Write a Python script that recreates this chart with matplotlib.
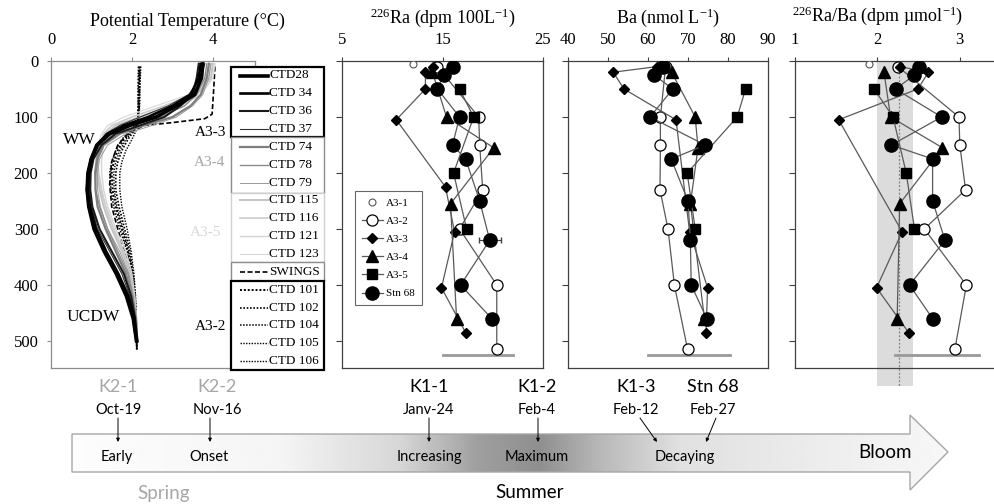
import numpy as np
import matplotlib
matplotlib.use("Agg")
import matplotlib.pyplot as plt
from matplotlib.patches import Polygon, Rectangle

plt.rcParams['font.family'] = 'Liberation Serif'
plt.rcParams['mathtext.fontset'] = 'custom'
plt.rcParams['mathtext.rm'] = 'Liberation Serif'

# ---- potential temperature profiles (depth in m, theta in degC) ----
ctd_depth = [5, 30, 60, 80, 100, 115, 130, 150, 175, 200, 230, 260, 300, 340, 380, 420, 460, 500]
ctd28 = [3.75, 3.72, 3.55, 3.1, 2.6, 1.95, 1.45, 1.15, 1.0, 0.93, 0.9, 0.95, 1.1, 1.35, 1.65, 1.9, 2.05, 2.12]
ctd34 = [3.7, 3.65, 3.45, 3.0, 2.4, 1.8, 1.4, 1.12, 0.98, 0.9, 0.88, 0.92, 1.05, 1.3, 1.6, 1.85, 2.02, 2.1]
ctd36 = [3.65, 3.6, 3.5, 3.2, 2.8, 2.2, 1.6, 1.25, 1.05, 0.98, 0.97, 1.02, 1.2, 1.5, 1.8, 1.98, 2.08, 2.12]
ctd37 = [3.8, 3.7, 3.4, 2.9, 2.2, 1.7, 1.35, 1.15, 1.02, 0.97, 0.95, 1.0, 1.15, 1.45, 1.75, 1.95, 2.06, 2.12]
ctd74 = [3.9, 3.85, 3.7, 3.45, 3.0, 2.3, 1.7, 1.3, 1.15, 1.1, 1.1, 1.15, 1.35, 1.6, 1.85, 2.0, 2.1, 2.13]
ctd78 = [3.85, 3.8, 3.6, 3.3, 2.7, 2.0, 1.55, 1.25, 1.12, 1.08, 1.1, 1.2, 1.4, 1.65, 1.9, 2.02, 2.1, 2.13]
ctd79 = [3.95, 3.9, 3.75, 3.5, 3.1, 2.5, 1.85, 1.4, 1.2, 1.15, 1.15, 1.22, 1.4, 1.7, 1.92, 2.03, 2.1, 2.13]
ctd115 = [4.0, 3.95, 3.6, 3.0, 2.2, 1.6, 1.35, 1.2, 1.15, 1.15, 1.2, 1.3, 1.5, 1.75, 1.95, 2.05, 2.1, 2.13]
ctd116 = [3.95, 3.9, 3.5, 2.8, 2.0, 1.5, 1.3, 1.2, 1.15, 1.18, 1.25, 1.35, 1.55, 1.8, 1.97, 2.06, 2.1, 2.13]
ctd121 = [4.05, 4.0, 3.7, 3.2, 2.5, 1.8, 1.45, 1.3, 1.25, 1.25, 1.3, 1.4, 1.6, 1.85, 2.0, 2.07, 2.11, 2.13]
ctd123 = [3.9, 3.85, 3.4, 2.6, 1.8, 1.4, 1.25, 1.15, 1.12, 1.15, 1.22, 1.35, 1.55, 1.78, 1.96, 2.05, 2.1, 2.13]

swings_depth = [10, 50, 95, 103, 110, 115, 130, 150, 180, 220, 260, 300, 350, 400, 450, 500]
swings = [4.05, 4.02, 3.98, 3.8, 3.0, 2.3, 1.9, 1.65, 1.5, 1.45, 1.5, 1.65, 1.85, 2.0, 2.08, 2.12]

a32_ctd_depth = [10, 40, 80, 110, 125, 140, 160, 180, 200, 230, 260, 300, 340, 380, 420, 460, 515]
ctd101 = [2.18, 2.17, 2.16, 2.15, 2.0, 1.8, 1.65, 1.55, 1.5, 1.52, 1.6, 1.75, 1.9, 2.0, 2.07, 2.1, 2.12]
ctd102 = [2.2, 2.19, 2.18, 2.16, 2.05, 1.9, 1.75, 1.65, 1.6, 1.6, 1.68, 1.82, 1.95, 2.03, 2.08, 2.1, 2.12]
ctd104 = [2.16, 2.15, 2.15, 2.14, 1.95, 1.75, 1.6, 1.5, 1.45, 1.48, 1.55, 1.7, 1.88, 1.98, 2.06, 2.1, 2.12]
ctd105 = [2.22, 2.2, 2.19, 2.17, 2.1, 2.0, 1.85, 1.75, 1.7, 1.7, 1.75, 1.88, 1.98, 2.05, 2.09, 2.11, 2.12]
ctd106 = [2.19, 2.18, 2.17, 2.15, 2.02, 1.85, 1.7, 1.6, 1.55, 1.56, 1.63, 1.78, 1.92, 2.02, 2.07, 2.1, 2.12]

# ---- 226Ra (dpm/100L), Ba (nmol/L), 226Ra/Ba (dpm/umol) ----
nan = np.nan
a31_depth = [5]
a31_ra = [12.1]
a31_ba = [63.7]
a31_ratio = [1.90]

a32_depth = [10, 100, 150, 230, 300, 400, 515]
a32_ra = [14.5, 18.6, 18.7, 19.0, 16.7, 20.4, 20.4]
a32_ba = [64.4, 63.1, 63.1, 63.0, 65.0, 66.6, 69.9]
a32_ratio = [2.25, 2.99, 3.00, 3.07, 2.57, 3.08, 2.94]

a33_depth = [10, 20, 50, 105, 225, 305, 405, 485]
a33_ra = [14.1, 13.3, 13.3, 10.4, 15.3, 16.2, 14.9, 17.3]
a33_ba = [62.3, 51.3, 54.0, 67.0, nan, 70.4, 74.9, 74.5]
a33_ratio = [2.27, 2.62, 2.49, 1.53, nan, 2.30, 1.99, 2.38]

a34_depth = [20, 100, 155, 255, 460]
a34_ra = [14.0, 15.4, 20.1, 15.8, 16.4]
a34_ba = [65.9, 71.8, 72.5, 70.6, 74.1]
a34_ratio = [2.08, 2.16, 2.79, 2.27, 2.24]

a35_depth = [50, 100, 200, 300]
a35_ra = [16.7, 18.1, 16.1, 17.4]
a35_ba = [84.4, 82.3, 69.8, 71.8]
a35_ratio = [1.96, 2.19, 2.35, 2.45]

stn68_depth = [10, 25, 50, 100, 150, 175, 250, 320, 400, 460]
stn68_ra = [16.0, 15.1, 14.5, 16.7, 16.0, 17.3, 18.7, 19.7, 16.8, 19.9]
stn68_ba = [63.7, 61.5, 66.2, 60.5, 74.3, 65.8, 70.0, 70.6, 70.8, 74.7]
stn68_ratio = [2.50, 2.45, 2.22, 2.78, 2.17, 2.67, 2.67, 2.82, 2.39, 2.67]
stn68_ra_err = [0, 0, 0, 0, 0, 0, 0, 1.1, 0, 0]

ref_depth = 525
ra_ref = [15.0, 22.0]
ba_ref = [60.0, 80.5]
ratio_ref = [2.21, 3.23]
ratio_band = [2.0, 2.43]
ratio_mean = 2.26

# ---- timeline ----
tl_station = ['K2-1', 'K2-2', 'K1-1', 'K1-2', 'K1-3', 'Stn 68']
tl_date = ['Oct-19', 'Nov-16', 'Janv-24', 'Feb-4', 'Feb-12', 'Feb-27']
tl_stage = ['Early', 'Onset', 'Increasing', 'Maximum', 'Decaying']

# ---------------------------------------------------------------
W, H = 994, 504
fig = plt.figure(figsize=(W / 100, H / 100), dpi=100)


def px_axes(left, top, right, bottom):
    return fig.add_axes([left / W, 1 - bottom / H, (right - left) / W, (bottom - top) / H])


TOP, BOT = 61, 368
YMAX = (BOT - TOP) / 0.56

# ---- panel 1: temperature ----
profiles = [
    ('CTD28', ctd_depth, ctd28, 'black', 2.6, '-'),
    ('CTD 34', ctd_depth, ctd34, 'black', 1.9, '-'),
    ('CTD 36', ctd_depth, ctd36, '#1a1a1a', 1.5, '-'),
    ('CTD 37', ctd_depth, ctd37, '#333333', 0.8, '-'),
    ('CTD 74', ctd_depth, ctd74, '#7f7f7f', 1.6, '-'),
    ('CTD 78', ctd_depth, ctd78, '#8c8c8c', 1.0, '-'),
    ('CTD 79', ctd_depth, ctd79, '#999999', 0.7, '-'),
    ('CTD 115', ctd_depth, ctd115, '#c4c4c4', 1.4, '-'),
    ('CTD 116', ctd_depth, ctd116, '#cccccc', 1.2, '-'),
    ('CTD 121', ctd_depth, ctd121, '#d4d4d4', 1.0, '-'),
    ('CTD 123', ctd_depth, ctd123, '#d9d9d9', 0.8, '-'),
    ('SWINGS', swings_depth, swings, 'black', 1.2, (0, (3, 1.5))),
    ('CTD 101', a32_ctd_depth, ctd101, 'black', 1.4, (0, (1, 1))),
    ('CTD 102', a32_ctd_depth, ctd102, 'black', 1.2, (0, (1, 1))),
    ('CTD 104', a32_ctd_depth, ctd104, 'black', 1.1, (0, (1, 1))),
    ('CTD 105', a32_ctd_depth, ctd105, 'black', 1.0, (0, (1, 1))),
    ('CTD 106', a32_ctd_depth, ctd106, 'black', 1.0, (0, (1, 1))),
]

ax1 = px_axes(51, TOP, 255, BOT)
for lab, d, t, c, lw, ls in reversed(profiles):
    ax1.plot(t, d, color=c, lw=lw, ls=ls)
ax1.set_xlim(0, 5.04)
ax1.set_ylim(YMAX, 0)
ax1.xaxis.tick_top()
ax1.set_xticks([0, 2, 4])
ax1.set_yticks([0, 100, 200, 300, 400, 500])
ax1.tick_params(labelsize=12, length=3, width=0.8, color='#8c8c8c', pad=6)
for s in ax1.spines.values():
    s.set_color('#8c8c8c')
    s.set_linewidth(0.9)

# ---- chemistry panels ----
stations = [
    ('A3-1', a31_depth, a31_ra, a31_ba, a31_ratio, dict(marker='o', ms=5, mfc='white', mec='#555555', mew=0.8, ls='none')),
    ('A3-2', a32_depth, a32_ra, a32_ba, a32_ratio, dict(marker='o', ms=8, mfc='white', mec='black', mew=0.9)),
    ('A3-3', a33_depth, a33_ra, a33_ba, a33_ratio, dict(marker='D', ms=5, mfc='black', mec='black')),
    ('A3-4', a34_depth, a34_ra, a34_ba, a34_ratio, dict(marker='^', ms=8, mfc='black', mec='black')),
    ('A3-5', a35_depth, a35_ra, a35_ba, a35_ratio, dict(marker='s', ms=7, mfc='black', mec='black')),
    ('Stn 68', stn68_depth, stn68_ra, stn68_ba, stn68_ratio, dict(marker='o', ms=9.5, mfc='black', mec='black')),
]


def chem_axes(left, right, xlim, xticks):
    ax = px_axes(left, TOP, right, BOT)
    ax.set_xlim(*xlim)
    ax.set_ylim(YMAX, 0)
    ax.xaxis.tick_top()
    ax.set_xticks(xticks)
    ax.set_yticks([0, 100, 200, 300, 400, 500])
    ax.tick_params(axis='y', labelleft=False, length=4, width=0.8, color='#404040')
    ax.tick_params(axis='x', labelsize=12, length=3, width=0.8, color='#404040', pad=6)
    for s in ax.spines.values():
        s.set_color('#404040')
        s.set_linewidth(0.9)
    return ax


ax2 = chem_axes(342, 543, (5, 25), [5, 15, 25])
ax3 = chem_axes(568, 768, (40, 90), [40, 50, 60, 70, 80, 90])
ax4 = chem_axes(795, 1001, (1, 3.5), [1, 2, 3])

ax4.fill_betweenx([0, YMAX * 1.06], ratio_band[0], ratio_band[1], color='#dcdcdc', lw=0, clip_on=False, zorder=0)
ax4.plot([ratio_mean, ratio_mean], [0, YMAX * 1.06], color='#7f7f7f', lw=0.9, ls=(0, (1.5, 1.5)), clip_on=False, zorder=1)

for ax, idx, ref in [(ax2, 2, ra_ref), (ax3, 3, ba_ref), (ax4, 4, ratio_ref)]:
    for lab, d, ra, ba, rt, st in stations:
        vals = np.array([ra, ba, rt][idx - 2], dtype=float)
        dep = np.array(d, dtype=float)
        ok = ~np.isnan(vals)
        kw = dict(st)
        if kw.get('ls', '-') != 'none':
            kw.setdefault('color', '#595959')
            kw.setdefault('lw', 0.9)
        ax.plot(vals[ok], dep[ok], label=lab, zorder=3, **kw)
    ax.plot(ref, [ref_depth, ref_depth], color='#999999', lw=2, zorder=2)

ax2.errorbar(stn68_ra, stn68_depth, xerr=stn68_ra_err, fmt='none', ecolor='#404040',
             elinewidth=0.8, capsize=2, zorder=2)

leg = ax2.legend(loc='upper left', bbox_to_anchor=(0.065, 0.575), fontsize=8, frameon=True,
                 fancybox=False, edgecolor='#404040', handlelength=1.9, handletextpad=0.3,
                 labelspacing=0.75, borderpad=0.6, borderaxespad=0)
leg.get_frame().set_linewidth(0.8)

# ---- overlay (pixel coordinates) ----
ov = fig.add_axes([0, 0, 1, 1], zorder=10)
ov.patch.set_alpha(0)
ov.axis('off')

ov.text(187, 21, 'Potential Temperature (°C)', ha='center', va='center', fontsize=13)
ov.text(443, 18, r'$\mathregular{^{226}}$Ra (dpm 100L$\mathregular{^{-1}}$)', ha='center', va='center', fontsize=13)
ov.text(668, 18, r'Ba (nmol L$\mathregular{^{-1}}$)', ha='center', va='center', fontsize=13)
ov.text(878, 16, r'$\mathregular{^{226}}$Ra/Ba (dpm µmol$\mathregular{^{-1}}$)', ha='center', va='center', fontsize=13)

# temperature legend, grouped boxes
boxes = [(67, 137, 'black', 1.6), (137, 193, '#8c8c8c', 1.0), (193, 262, '#d0d0d0', 1.0),
         (262, 281, '#8c8c8c', 1.0), (281, 370, 'black', 1.6)]
for top, bot, ec, lw in boxes:
    ov.add_patch(Rectangle((231, top), 93, bot - top, fc='white', ec=ec, lw=lw, zorder=2))
for i, (lab, d, t, c, lw, ls) in enumerate(profiles):
    y = 75.5 + i * 17.85
    ov.plot([240, 268], [y, y], color=c, lw=lw, ls=ls, zorder=3)
    ov.text(269, y, lab, ha='left', va='center', fontsize=9.5, zorder=3)

ov.text(79, 140, 'WW', ha='center', va='center', fontsize=12.5)
ov.text(93, 317, 'UCDW', ha='center', va='center', fontsize=12.5)
ov.text(211, 133, 'A3-3', ha='center', va='center', fontsize=11, color='black', zorder=4)
ov.text(210, 163, 'A3-4', ha='center', va='center', fontsize=11, color='#a6a6a6', zorder=4)
ov.text(206, 233, 'A3-5', ha='center', va='center', fontsize=11, color='#d9d9d9', zorder=4)
ov.text(211, 327, 'A3-2', ha='center', va='center', fontsize=11, color='black', zorder=4)

# bloom arrow with gradient
grad_x = [72, 280, 400, 480, 540, 600, 680, 948]
grad_level = [0.99, 0.96, 0.84, 0.62, 0.56, 0.72, 0.88, 0.97]
gx = np.linspace(72, 948, 600)
img = np.tile(np.interp(gx, grad_x, grad_level), (8, 1))
im = ov.imshow(img, cmap='gray', vmin=0, vmax=1, extent=(72, 948, 490, 415), aspect='auto', zorder=1)
arrow = Polygon([(72, 434), (910, 434), (910, 415), (948, 452), (910, 490), (910, 472), (72, 472)],
                closed=True, fc='none', ec='#a6a6a6', lw=1, zorder=2)
ov.add_patch(arrow)
im.set_clip_path(arrow)

tl_x = [118, 217, 429, 537, 636, 713]
tl_start = [(118, 418), (210, 418), (429, 418), (538, 418), (640, 418), (716, 418)]
tl_tip = [(118, 442), (210, 442), (429, 442), (538, 442), (657, 442), (706, 442)]
tl_color = ['#a6a6a6', '#a6a6a6', 'black', 'black', 'black', 'black']
for name, date, x, start, tip, c in zip(tl_station, tl_date, tl_x, tl_start, tl_tip, tl_color):
    ov.text(x, 387, name, ha='center', va='center', fontsize=13, color=c, family='Lato')
    ov.text(x, 410, date, ha='center', va='center', fontsize=10.5, family='Lato')
    ov.annotate('', xy=tip, xytext=start,
                arrowprops=dict(arrowstyle='-|>', color='black', lw=0.7, mutation_scale=5,
                                shrinkA=0, shrinkB=0))

stage_x = [117, 209, 429, 537, 685]
for lab, x in zip(tl_stage, stage_x):
    ov.text(x, 457, lab, ha='center', va='center', fontsize=10.5, family='Lato', zorder=4)
ov.text(885, 453, 'Bloom', ha='center', va='center', fontsize=13.5, family='Lato', zorder=4)
ov.text(164, 493, 'Spring', ha='center', va='center', fontsize=13.5, color='#a6a6a6', family='Lato')
ov.text(530, 493, 'Summer', ha='center', va='center', fontsize=13.5, family='Lato')

ov.set_xlim(0, W)
ov.set_ylim(H, 0)

fig.savefig('out.png', dpi=100)
